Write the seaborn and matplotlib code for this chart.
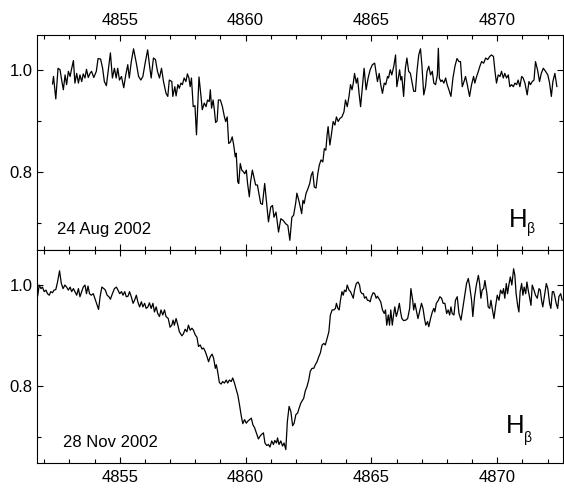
import matplotlib
matplotlib.use("Agg")
import matplotlib.pyplot as plt
from matplotlib.ticker import MultipleLocator, FormatStrFormatter
import numpy as np
import pandas as pd
import seaborn as sns

# ---------------- data ----------------
top_wl = [
    4852.33, 4852.37, 4852.46, 4852.55, 4852.63, 4852.68, 4852.76, 4852.83, 4852.89, 4852.96,
    4853.03, 4853.08, 4853.16, 4853.22, 4853.29, 4853.36, 4853.42, 4853.49, 4853.55, 4853.62,
    4853.68, 4853.75, 4853.82, 4853.88, 4853.97, 4854.07, 4854.14, 4854.24, 4854.32, 4854.39,
    4854.47, 4854.54, 4854.63, 4854.71, 4854.79, 4854.86, 4854.92, 4854.99, 4855.07, 4855.16,
    4855.24, 4855.32, 4855.38, 4855.46, 4855.55, 4855.66, 4855.75, 4855.84, 4855.92, 4856.01,
    4856.11, 4856.18, 4856.25, 4856.34, 4856.42, 4856.50, 4856.58, 4856.66, 4856.74, 4856.84,
    4856.91,
    4856.97, 4857.07, 4857.11, 4857.19, 4857.24, 4857.31, 4857.37, 4857.43, 4857.49, 4857.56,
    4857.63, 4857.69, 4857.75, 4857.80, 4857.85, 4857.92, 4857.99, 4858.05, 4858.15, 4858.23,
    4858.28, 4858.36, 4858.43, 4858.49, 4858.56, 4858.60, 4858.65, 4858.71, 4858.76, 4858.81,
    4858.87, 4858.92, 4859.00, 4859.08, 4859.16, 4859.21, 4859.27, 4859.33, 4859.40, 4859.47,
    4859.53, 4859.59, 4859.63, 4859.69, 4859.73, 4859.79, 4859.85, 4859.91, 4859.97, 4860.03,
    4860.08, 4860.15, 4860.20, 4860.27, 4860.33, 4860.40, 4860.47, 4860.52, 4860.60, 4860.67,
    4860.76, 4860.84, 4860.91, 4861.00, 4861.07, 4861.13, 4861.21, 4861.31, 4861.40, 4861.49,
    4861.60, 4861.68, 4861.76, 4861.84, 4861.91, 4861.99, 4862.04, 4862.13, 4862.23,
    4862.28, 4862.33, 4862.40, 4862.48, 4862.55, 4862.61, 4862.67, 4862.73, 4862.80, 4862.87,
    4862.93, 4863.00, 4863.07, 4863.13, 4863.19, 4863.24, 4863.28, 4863.35, 4863.41, 4863.48,
    4863.55, 4863.61, 4863.68, 4863.75, 4863.83, 4863.91, 4863.97, 4864.04, 4864.11, 4864.17,
    4864.23, 4864.28, 4864.33, 4864.40, 4864.45, 4864.51, 4864.57, 4864.65, 4864.71, 4864.79,
    4864.87, 4864.95, 4865.04, 4865.13, 4865.19, 4865.24, 4865.31, 4865.37, 4865.44, 4865.51,
    4865.57, 4865.64, 4865.68, 4865.75, 4865.81, 4865.89, 4865.96, 4866.01, 4866.08, 4866.12,
    4866.17, 4866.21, 4866.28, 4866.35, 4866.41, 4866.48, 4866.55, 4866.61, 4866.68, 4866.75,
    4866.81, 4866.88, 4866.95, 4867.01, 4867.08, 4867.15, 4867.21,
    4867.28, 4867.35, 4867.42, 4867.48, 4867.55, 4867.62, 4867.66, 4867.70, 4867.76, 4867.81,
    4867.88, 4867.95, 4868.01, 4868.08, 4868.16, 4868.24, 4868.32, 4868.40, 4868.48, 4868.54,
    4868.61, 4868.68, 4868.74, 4868.81, 4868.90, 4868.98, 4869.06, 4869.11, 4869.18, 4869.25,
    4869.31, 4869.38, 4869.46, 4869.54, 4869.62, 4869.70, 4869.77, 4869.85, 4869.91, 4869.97,
    4870.04, 4870.11, 4870.17, 4870.24, 4870.30, 4870.37, 4870.44, 4870.50, 4870.57, 4870.64,
    4870.70, 4870.77, 4870.83, 4870.90, 4870.97, 4871.03, 4871.10, 4871.19, 4871.26, 4871.32,
    4871.39, 4871.46, 4871.52, 4871.60, 4871.68, 4871.75, 4871.83, 4871.92, 4872.01, 4872.08,
    4872.15, 4872.21, 4872.29, 4872.37,
]
top_flux = [
    0.972, 0.987, 0.943, 1.003, 1.000, 0.984, 0.961, 0.990, 0.971, 0.997,
    0.987, 1.000, 1.018, 0.974, 0.993, 0.974, 0.990, 0.977, 0.992, 0.984,
    1.001, 0.985, 0.993, 0.997, 0.985, 0.997, 1.022, 1.021, 1.003, 0.977,
    0.969, 0.997, 1.033, 0.984, 1.003, 0.984, 1.003, 0.980, 0.987, 0.965,
    0.990, 1.010, 0.984, 1.016, 1.041, 1.013, 0.987, 0.980, 0.987, 1.013,
    1.039, 1.010, 0.984, 1.023, 1.020, 0.997, 0.984, 1.003, 0.977, 0.954,
    0.948,
    0.980, 0.977, 0.948, 0.967, 0.949, 0.971, 0.964, 0.974, 0.971, 0.984,
    0.977, 0.992, 0.984, 0.967, 0.984, 0.928, 0.930, 0.873, 0.986, 0.948,
    0.922, 0.935, 0.928, 0.941, 0.938, 0.961, 0.925, 0.941, 0.922, 0.897,
    0.900, 0.941, 0.941, 0.928, 0.908, 0.899, 0.908, 0.856, 0.859, 0.869,
    0.853, 0.830, 0.837, 0.781, 0.778, 0.817, 0.804, 0.801, 0.797, 0.804,
    0.778, 0.752, 0.781, 0.804, 0.791, 0.775, 0.775, 0.761, 0.739, 0.737,
    0.778, 0.739, 0.703, 0.732, 0.735, 0.712, 0.722, 0.683, 0.709, 0.706,
    0.699, 0.696, 0.667, 0.712, 0.716, 0.739, 0.759, 0.742, 0.719,
    0.745, 0.739, 0.758, 0.768, 0.778, 0.794, 0.801, 0.771, 0.769, 0.797,
    0.814, 0.824, 0.820, 0.846, 0.843, 0.873, 0.889, 0.853, 0.873, 0.899,
    0.892, 0.908, 0.899, 0.905, 0.908, 0.918, 0.941, 0.928, 0.948, 0.971,
    0.961, 0.974, 0.993, 0.974, 0.984, 0.954, 0.928, 0.971, 1.003, 0.961,
    0.984, 1.000, 1.010, 1.013, 0.993, 0.977, 0.993, 0.971, 0.954, 0.974,
    0.971, 0.987, 0.984, 1.000, 0.990, 1.007, 1.029, 0.967, 0.987, 1.000,
    0.980, 0.987, 0.948, 1.003, 1.023, 0.997, 0.993, 0.977, 0.958, 0.958,
    0.997, 1.029, 1.041, 1.007, 0.951, 0.967, 0.997,
    1.007, 0.990, 0.997, 0.974, 0.971, 0.990, 1.042, 0.984, 0.977, 0.980,
    0.974, 0.984, 0.971, 0.961, 0.948, 0.984, 1.007, 1.022, 1.016, 1.016,
    0.967, 0.977, 0.987, 0.971, 0.948, 0.971, 0.987, 0.974, 0.987, 0.997,
    1.007, 1.016, 1.013, 1.023, 1.020, 1.026, 1.029, 1.026, 0.997, 0.974,
    0.990, 0.987, 0.997, 0.984, 0.993, 0.984, 0.990, 0.967, 0.971, 0.967,
    0.974, 0.971, 0.980, 0.967, 0.987, 0.984, 0.974, 0.951, 0.977, 0.971,
    0.977, 0.980, 1.016, 1.000, 0.977, 0.993, 1.003, 0.997, 0.990, 0.974,
    0.948, 0.977, 0.993, 0.967,
]

bot_wl = [
    4851.74, 4851.80, 4851.87, 4851.93, 4852.00, 4852.07, 4852.13, 4852.20, 4852.26, 4852.33,
    4852.39, 4852.46, 4852.53, 4852.61, 4852.68, 4852.75, 4852.82, 4852.89, 4852.96, 4853.03,
    4853.09, 4853.16, 4853.22, 4853.29, 4853.36, 4853.42, 4853.49, 4853.55, 4853.62, 4853.68,
    4853.74, 4853.80, 4853.87, 4853.95, 4854.01, 4854.08, 4854.16, 4854.22, 4854.29, 4854.37,
    4854.43, 4854.50, 4854.57, 4854.63, 4854.71, 4854.79, 4854.87, 4854.93, 4855.00, 4855.07,
    4855.13, 4855.20, 4855.26, 4855.33, 4855.39, 4855.46, 4855.53, 4855.59, 4855.66, 4855.72,
    4855.79, 4855.86, 4855.92, 4855.99, 4856.05, 4856.12, 4856.18, 4856.25, 4856.32, 4856.38,
    4856.45, 4856.51, 4856.58, 4856.64, 4856.71, 4856.78, 4856.84,
    4856.93, 4857.00, 4857.07, 4857.12, 4857.17, 4857.24, 4857.31, 4857.37, 4857.47, 4857.53,
    4857.60, 4857.67, 4857.73, 4857.80, 4857.87, 4857.93, 4858.00, 4858.07, 4858.13, 4858.20,
    4858.27, 4858.33, 4858.40, 4858.47, 4858.53, 4858.60, 4858.67, 4858.73, 4858.80, 4858.84,
    4858.89, 4858.96, 4859.03, 4859.09, 4859.16, 4859.23, 4859.29, 4859.36, 4859.43, 4859.49,
    4859.56, 4859.63, 4859.69, 4859.76, 4859.83, 4859.89, 4859.96, 4860.03, 4860.09, 4860.16,
    4860.23, 4860.29, 4860.36, 4860.43, 4860.51, 4860.57, 4860.64, 4860.71, 4860.77, 4860.84,
    4860.91, 4860.97, 4861.04, 4861.11, 4861.16, 4861.23, 4861.27, 4861.33, 4861.40, 4861.47,
    4861.53, 4861.60, 4861.66, 4861.73, 4861.80, 4861.87, 4861.93, 4862.00, 4862.07, 4862.13,
    4862.20,
    4862.31, 4862.37, 4862.44, 4862.51, 4862.57, 4862.64, 4862.71, 4862.77, 4862.84, 4862.91,
    4862.97, 4863.04, 4863.11, 4863.17, 4863.24, 4863.31, 4863.37, 4863.44, 4863.51, 4863.57,
    4863.61, 4863.67, 4863.72, 4863.77, 4863.83, 4863.88, 4863.93, 4863.99, 4864.04, 4864.11,
    4864.17, 4864.23, 4864.28, 4864.33, 4864.40, 4864.47, 4864.53, 4864.57, 4864.63, 4864.68,
    4864.73, 4864.79, 4864.84, 4864.89, 4864.95, 4865.00, 4865.07, 4865.13, 4865.19, 4865.24,
    4865.31, 4865.37, 4865.44, 4865.51, 4865.56, 4865.61, 4865.67, 4865.72, 4865.77, 4865.83,
    4865.88, 4865.93, 4865.99, 4866.04, 4866.11, 4866.16, 4866.21, 4866.28, 4866.37, 4866.44,
    4866.52, 4866.57, 4866.64, 4866.68, 4866.73, 4866.81, 4866.85, 4866.91, 4866.99, 4867.05,
    4867.11, 4867.16, 4867.23,
    4867.28, 4867.35, 4867.42, 4867.48, 4867.52, 4867.58, 4867.66, 4867.72, 4867.79, 4867.85,
    4867.92, 4867.99, 4868.05, 4868.11, 4868.16, 4868.21, 4868.28, 4868.34, 4868.41, 4868.48,
    4868.56, 4868.64, 4868.72, 4868.78, 4868.85, 4868.91, 4868.98, 4869.03, 4869.10, 4869.17,
    4869.25, 4869.30, 4869.35, 4869.40, 4869.46, 4869.51, 4869.59, 4869.64, 4869.70, 4869.75,
    4869.80, 4869.87, 4869.93, 4870.00, 4870.07, 4870.13, 4870.20, 4870.25, 4870.30, 4870.36,
    4870.41, 4870.46, 4870.52, 4870.58, 4870.65, 4870.70, 4870.75, 4870.81, 4870.86, 4870.91,
    4870.97, 4871.02, 4871.07, 4871.13, 4871.18, 4871.23, 4871.28, 4871.34, 4871.39, 4871.46,
    4871.52, 4871.59, 4871.66, 4871.71, 4871.76, 4871.81, 4871.88, 4871.95, 4872.01, 4872.08,
    4872.13, 4872.19, 4872.24, 4872.29, 4872.34, 4872.40, 4872.45, 4872.52, 4872.58,
]
bot_flux = [
    0.977, 0.999, 0.992, 0.995, 0.986, 0.989, 0.982, 0.979, 0.986, 0.984,
    0.989, 0.990, 1.005, 1.027, 1.002, 0.992, 0.999, 0.995, 0.989, 0.995,
    0.986, 0.992, 0.986, 0.979, 0.992, 0.976, 0.986, 0.995, 0.999, 0.982,
    0.997, 0.982, 0.979, 0.982, 0.973, 0.963, 0.951, 0.976, 0.995, 0.992,
    0.989, 0.979, 0.976, 0.971, 0.982, 0.992, 0.995, 0.989, 0.982, 0.986,
    0.979, 0.986, 0.976, 0.977, 0.986, 0.976, 0.963, 0.969, 0.979, 0.966,
    0.956, 0.966, 0.956, 0.963, 0.953, 0.956, 0.964, 0.953, 0.963, 0.946,
    0.956, 0.943, 0.937, 0.950, 0.940, 0.950, 0.937,
    0.933, 0.916, 0.920, 0.930, 0.920, 0.933, 0.920, 0.907, 0.899, 0.903,
    0.912, 0.907, 0.920, 0.910, 0.914, 0.910, 0.901, 0.896, 0.878, 0.881,
    0.873, 0.875, 0.868, 0.858, 0.848, 0.858, 0.863, 0.855, 0.835, 0.842,
    0.829, 0.807, 0.804, 0.809, 0.806, 0.812, 0.806, 0.812, 0.809, 0.816,
    0.806, 0.793, 0.783, 0.763, 0.741, 0.726, 0.734, 0.727, 0.731, 0.734,
    0.737, 0.724, 0.718, 0.708, 0.696, 0.701, 0.705, 0.708, 0.688, 0.683,
    0.685, 0.680, 0.692, 0.685, 0.693, 0.688, 0.698, 0.685, 0.692, 0.682,
    0.688, 0.675, 0.730, 0.760, 0.750, 0.722, 0.727, 0.744, 0.747, 0.757,
    0.767,
    0.776, 0.790, 0.799, 0.812, 0.829, 0.835, 0.835, 0.842, 0.848, 0.858,
    0.865, 0.881, 0.884, 0.881, 0.894, 0.907, 0.940, 0.950, 0.950, 0.953,
    0.963, 0.953, 0.950, 0.969, 0.986, 0.979, 0.989, 0.986, 0.999, 0.989,
    0.986, 0.979, 0.973, 0.989, 1.002, 1.005, 0.999, 0.986, 0.982, 0.982,
    0.973, 0.976, 0.969, 0.969, 0.966, 0.976, 0.984, 0.982, 0.973, 0.977,
    0.971, 0.966, 0.950, 0.943, 0.950, 0.920, 0.940, 0.920, 0.950, 0.920,
    0.940, 0.956, 0.937, 0.946, 0.963, 0.946, 0.933, 0.929, 0.930, 0.933,
    0.953, 0.992, 0.969, 0.950, 0.963, 0.943, 0.933, 0.946, 0.963, 0.953,
    0.933, 0.920, 0.927,
    0.917, 0.933, 0.946, 0.953, 0.946, 0.963, 0.969, 0.976, 0.973, 0.963,
    0.963, 0.943, 0.950, 0.940, 0.956, 0.943, 0.940, 0.969, 0.976, 0.943,
    0.930, 0.956, 0.982, 1.002, 1.012, 0.995, 0.969, 0.937, 0.976, 0.999,
    1.018, 1.002, 0.973, 0.989, 0.992, 1.008, 0.982, 0.956, 0.953, 0.969,
    0.953, 0.933, 0.956, 0.979, 0.969, 0.989, 0.982, 0.992, 0.973, 1.002,
    0.982, 0.999, 1.015, 0.999, 1.031, 1.018, 0.982, 0.959, 0.946, 0.986,
    1.002, 0.979, 0.995, 0.982, 1.005, 0.989, 0.976, 0.959, 0.999, 0.989,
    0.979, 0.973, 0.992, 0.989, 0.969, 0.956, 0.979, 1.002, 0.992, 0.963,
    0.953, 0.986, 0.986, 0.976, 0.963, 0.953, 0.976, 0.982, 0.969,
]

dates = ["24 Aug 2002", "28 Nov 2002"]
line_name = "H"
line_sub = "\u03b2"
x_major = 5
x_minor = 1
y_major = 0.2
y_minor = 0.1

# ---------------- style ----------------
sns.set_theme(style="ticks")
plt.rcParams["font.family"] = ["Liberation Sans", "DejaVu Sans"]
for k in ["text.color", "axes.labelcolor", "xtick.color", "ytick.color", "axes.edgecolor"]:
    plt.rcParams[k] = "black"

fig = plt.figure(figsize=(5.64, 4.88), dpi=100)
ax1 = fig.add_axes([0.065, 0.4877, 0.934, 0.4406])
ax2 = fig.add_axes([0.065, 0.0506, 0.934, 0.4371])

panels = [
    (ax1, top_wl, top_flux, dates[0], (0.0385, 0.074), (0.896, 0.107), (0.930, 0.080)),
    (ax2, bot_wl, bot_flux, dates[1], (0.050, 0.078), (0.890, 0.141), (0.925, 0.100)),
]

for ax, wl, fl, date, dpos, hpos, bpos in panels:
    df = pd.DataFrame({"wl": wl, "flux": fl})
    sns.lineplot(data=df, x="wl", y="flux", ax=ax, color="black",
                 linewidth=0.9, estimator=None, sort=False, legend=False)
    ax.set_xlim(4851.70, 4872.63)
    ax.set_ylim(0.648, 1.068)
    ax.set_xlabel("")
    ax.set_ylabel("")
    ax.xaxis.set_major_locator(MultipleLocator(x_major))
    ax.xaxis.set_minor_locator(MultipleLocator(x_minor))
    ax.yaxis.set_major_locator(MultipleLocator(y_major))
    ax.yaxis.set_minor_locator(MultipleLocator(y_minor))
    ax.yaxis.set_major_formatter(FormatStrFormatter("%.1f"))
    ax.tick_params(which="both", direction="in", top=True, right=True,
                   width=0.8, colors="black", labelsize=12)
    ax.tick_params(which="major", length=4)
    ax.tick_params(which="minor", length=2.8)
    ax.tick_params(axis="x", pad=5)
    ax.tick_params(axis="y", pad=3)
    for s in ax.spines.values():
        s.set_linewidth(0.8)
        s.set_color("black")
    ax.text(dpos[0], dpos[1], date, transform=ax.transAxes, fontsize=12,
            ha="left", va="baseline")
    ax.text(hpos[0], hpos[1], line_name, transform=ax.transAxes, fontsize=18.5,
            ha="left", va="baseline")
    ax.text(bpos[0], bpos[1], line_sub, transform=ax.transAxes, fontsize=10,
            ha="left", va="baseline")

ax1.tick_params(axis="x", labeltop=True, labelbottom=False)
ax2.tick_params(axis="x", labeltop=False, labelbottom=True)

fig.savefig("out.png", dpi=100)
